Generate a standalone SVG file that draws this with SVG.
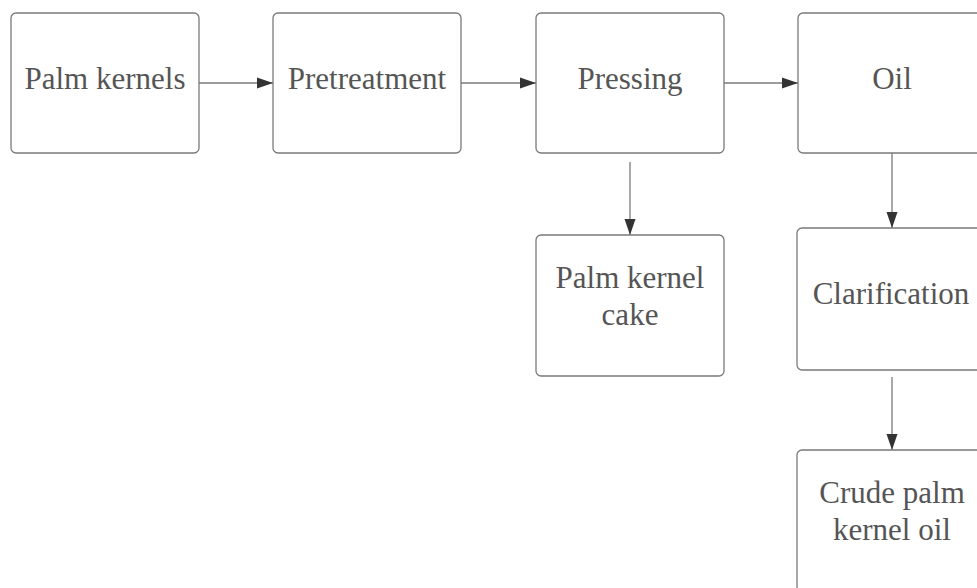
<svg xmlns="http://www.w3.org/2000/svg" width="977" height="588" viewBox="0 0 977 588">
<style>
.box{fill:#fff;stroke:#7a7a7a;stroke-width:1.3}
.lbl{font-family:"Liberation Serif","Times New Roman",serif;font-size:31px;fill:#555;text-anchor:middle}
.edge{stroke:#7a7a7a;stroke-width:1.3;fill:none;marker-end:url(#ah)}
</style>
<defs>
<marker id="ah" markerWidth="16" markerHeight="12" refX="16" refY="6" orient="auto" markerUnits="userSpaceOnUse">
<path d="M0,0.5 L16,6 L0,11.5 Z" fill="#333"/>
</marker>
</defs>
<rect width="977" height="588" fill="#fff"/>
<g id="connectors">
<line class="edge" x1="199" y1="83" x2="273" y2="83"/>
<line class="edge" x1="461" y1="83" x2="536" y2="83"/>
<line class="edge" x1="724" y1="83" x2="798" y2="83"/>
<line class="edge" x1="630" y1="162" x2="630" y2="235"/>
<line class="edge" x1="892" y1="153" x2="892" y2="228"/>
<line class="edge" x1="892" y1="377" x2="892" y2="450"/>
</g>
<g id="palm-kernels">
<rect class="box" x="11" y="13" width="188" height="140" rx="5"/>
<text class="lbl" x="105" y="89">Palm kernels</text>
</g>
<g id="pretreatment">
<rect class="box" x="273" y="13" width="188" height="140" rx="5"/>
<text class="lbl" x="367" y="89">Pretreatment</text>
</g>
<g id="pressing">
<rect class="box" x="536" y="13" width="188" height="140" rx="5"/>
<text class="lbl" x="630" y="89">Pressing</text>
</g>
<g id="oil">
<rect class="box" x="798" y="13" width="188" height="140" rx="5"/>
<text class="lbl" x="892" y="89">Oil</text>
</g>
<g id="palm-kernel-cake">
<rect class="box" x="536" y="235" width="188" height="141" rx="5"/>
<text class="lbl" x="630" y="288">Palm kernel</text>
<text class="lbl" x="630" y="325">cake</text>
</g>
<g id="clarification">
<rect class="box" x="797" y="228" width="188" height="142" rx="5"/>
<text class="lbl" x="891" y="304">Clarification</text>
</g>
<g id="crude-palm-kernel-oil">
<rect class="box" x="797" y="450" width="188" height="142" rx="5"/>
<text class="lbl" x="892" y="503">Crude palm</text>
<text class="lbl" x="892" y="540">kernel oil</text>
</g>
</svg>
